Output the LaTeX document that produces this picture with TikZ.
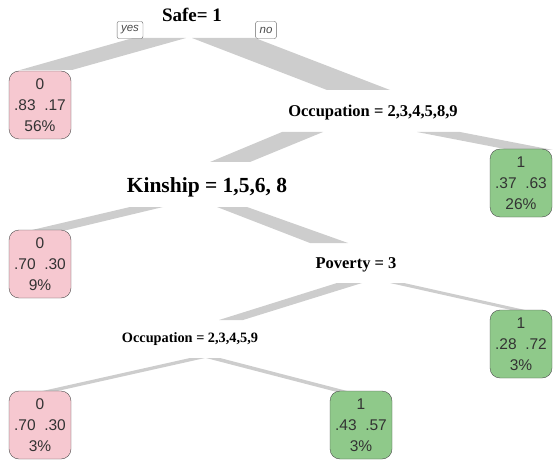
\documentclass[tikz,border=0pt]{standalone}
\usepackage{fontspec}
\setmainfont{Liberation Serif}
\setsansfont{Liberation Sans}
\usetikzlibrary{calc}
\definecolor{leafpink}{RGB}{246,200,208}
\definecolor{leafgreen}{RGB}{143,201,138}
\definecolor{branchgray}{RGB}{205,205,205}
\tikzset{
	splitlabel/.style={font=\bfseries\fontsize{#1}{#1}\selectfont, inner sep=1pt},
	leaf/.style={draw=black!70, rounded corners=10pt, minimum width=62pt, minimum height=68pt,
		inner sep=0pt, align=center, text=black!80, font=\sffamily\fontsize{15.5}{21}\selectfont},
	pinkleaf/.style={leaf, fill=leafpink},
	greenleaf/.style={leaf, fill=leafgreen},
	answer/.style={draw=black!60, rounded corners=2pt, minimum height=17pt, inner xsep=4pt,
		inner ysep=0pt, text=black!70, font=\sffamily\itshape\fontsize{11.5}{11.5}\selectfont},
	branch/.style={fill=branchgray}
}
% branch: from, to, top left/right offset, bottom left/right offset
\newcommand{\branch}[6]{%
	\fill[branch] ($(#1)+(#3,0)$) -- ($(#1)+(#4,0)$) -- ($(#2)+(#6,0)$) -- ($(#2)+(#5,0)$) -- cycle;}

\begin{document}
\begin{tikzpicture}[x=1pt,y=-1pt]
			\useasboundingbox (0,0) rectangle (553,462);
			%		\draw[dashed] (0,0) grid[step=50] (553,462);
			\node[splitlabel=19] (safe) at (192,15) {Safe= 1};
			\node[splitlabel=16.5] (occ1) at (373,113) {Occupation = 2,3,4,5,8,9};
			\node[splitlabel=21.5] (kin) at (207,187) {Kinship = 1,5,6, 8};
			\node[splitlabel=16.5] (pov) at (356,265) {Poverty = 3};
			\node[splitlabel=14.3] (occ2) at (190,339) {Occupation = 2,3,4,5,9};
			\coordinate (safe-b) at (189,38);
			\coordinate (occ1-t) at (373,90);
			\coordinate (occ1-b) at (373,132);
			\coordinate (kin-t) at (207,162);
			\coordinate (kin-b) at (207,207);
			\coordinate (pov-t) at (356,243);
			\coordinate (pov-b) at (356,283);
			\coordinate (occ2-t) at (190,320);
			\coordinate (occ2-b) at (205,358);
			\coordinate (l1) at (40,105);
			\coordinate (l2) at (521,183);
			\coordinate (l3) at (40,264);
			\coordinate (l4) at (521,344);
			\coordinate (l5) at (40,425);
			\coordinate (l6) at (361,425);
			% branches
			\branch{safe-b}{$(l1)+(0,-35)$}{-56}{-3}{-20}{32}
			\branch{safe-b}{occ1-t}{3}{66}{-46}{17}
			\branch{occ1-b}{kin-t}{-91}{-50}{3}{43}
			\branch{occ1-b}{$(l2)+(0,-33)$}{44}{87}{-11}{32}
			\branch{kin-b}{$(l3)+(0,-34)$}{-77}{-44}{-8}{27}
			\branch{kin-b}{pov-t}{10}{40}{-46}{-8}
			\branch{pov-b}{occ2-t}{-19}{6}{29}{53}
			\branch{pov-b}{$(l4)+(0,-34)$}{34}{48}{-10}{4}
			\branch{occ2-b}{$(l5)+(0,-33)$}{-15}{0}{-2}{13}
			\branch{occ2-b}{$(l6)+(0,-33)$}{1}{15}{-24}{-10}
			% leaves
			\node[pinkleaf] (leaf1) at (l1) {0\\.83\ \ .17\\56\%};
			\node[greenleaf] (leaf2) at (l2) {1\\.37\ \ .63\\26\%};
			\node[pinkleaf] (leaf3) at (l3) {0\\.70\ \ .30\\9\%};
			\node[greenleaf] (leaf4) at (l4) {1\\.28\ \ .72\\3\%};
			\node[pinkleaf] (leaf5) at (l5) {0\\.70\ \ .30\\3\%};
			\node[greenleaf] (leaf6) at (l6) {1\\.43\ \ .57\\3\%};
			\node[answer,fill=white] (yes) at (130,30) {yes};
			\node[answer,fill=white] (no) at (266,30) {no};
		\end{tikzpicture}
\end{document}
